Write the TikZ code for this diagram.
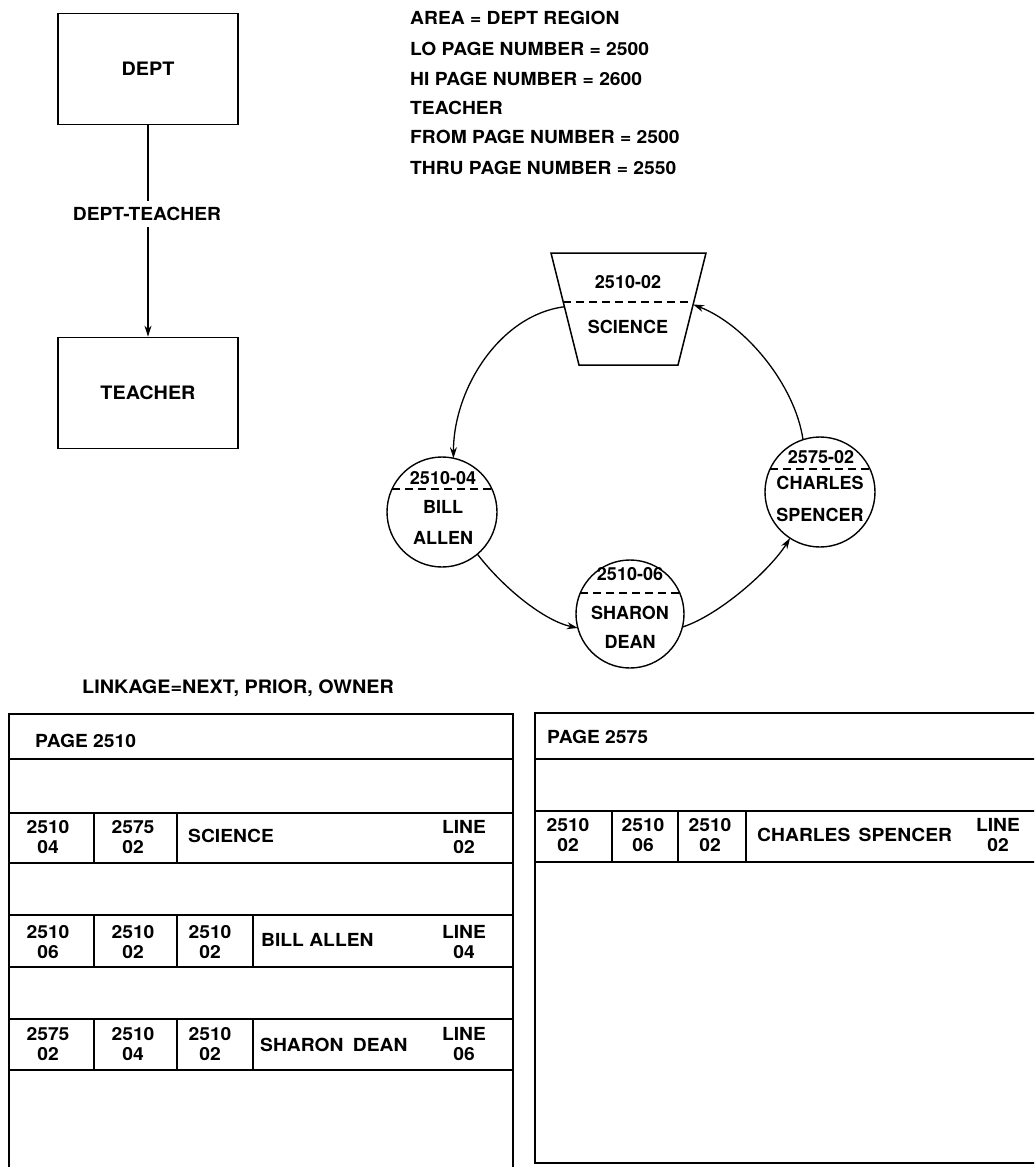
\documentclass[tikz,border=0pt]{standalone}
\usepackage{fontspec}
\setmainfont{TeX Gyre Heros}[FakeStretch=1.07]
\newfontfamily\ringfont{TeX Gyre Heros}
\usetikzlibrary{arrows.meta,calc}
\begin{document}
\begin{tikzpicture}[x=1pt,y=-1pt,
  lbl/.style={font=\fontsize{18}{20}\selectfont\bfseries, inner sep=0pt},
  rlbl/.style={font=\ringfont\fontsize{18}{20}\selectfont\bfseries, inner sep=0pt},
  cell/.style={lbl, align=center},
  entity/.style={draw, line width=1.7pt, minimum width=180pt, minimum height=111pt,
                 inner sep=0pt, font=\fontsize{18.5}{20}\selectfont\bfseries},
  occ/.style={draw, circle, line width=1.4pt, inner sep=0pt, outer sep=0pt},
  link/.style={line width=1.3pt, -{Stealth[length=11pt,width=7pt]}},
  sep/.style={line width=1.6pt, dash pattern=on 8pt off 5pt},
  grid/.style={line width=1.8pt}
]
\useasboundingbox (0,0) rectangle (1034,1167);
\clip (0,0) rectangle (1034,1167);

% ---------- schema: owner / member record types ----------
\node[entity] (dept) at (148,69) {DEPT};
\node[entity] (teacher) at (148,393) {TEACHER};
\node[lbl, inner sep=6pt] (rel) at (147,214) {DEPT-TEACHER};
\draw[line width=1.3pt] (dept.south) -- (rel.north -| dept.south);
\draw[link] (rel.south -| teacher.north) -- (teacher.north);

% ---------- area description ----------
\node[lbl, anchor=west] (t1) at (410,18)  {AREA = DEPT REGION};
\node[lbl, anchor=west] (t2) at (410,49)  {LO PAGE NUMBER = 2500};
\node[lbl, anchor=west] (t3) at (410,79)  {HI PAGE NUMBER = 2600};
\node[lbl, anchor=west] (t4) at (410,108) {TEACHER};
\node[lbl, anchor=west] (t5) at (410,137) {FROM PAGE NUMBER = 2500};
\node[lbl, anchor=west] (t6) at (410,168) {THRU PAGE NUMBER = 2550};

% ---------- set occurrence ----------
% owner record (trapezoid)
\coordinate (tl) at (551,253);
\coordinate (tr) at (706,253);
\coordinate (br) at (678,365);
\coordinate (bl) at (579,365);
\draw[line width=1.5pt] (tl) -- (tr) -- (br) -- (bl) -- cycle;
\draw[sep] ($(tl)!0.44!(bl)$) -- ($(tr)!0.44!(br)$);
\node[rlbl] (sciKey) at (628,282) {2510-02};
\node[rlbl] (sciName) at (628,327) {SCIENCE};
\coordinate (sciOut) at ($(tl)!0.48!(bl)$);
\coordinate (sciIn) at ($(tr)!0.46!(br)$);

% member records (circles)
\node[occ, minimum size=110pt] (bill) at (442,512) {};
\node[occ, minimum size=108pt] (sharon) at (630,614) {};
\node[occ, minimum size=110pt] (charles) at (820,492) {};

\draw[sep] (bill.155) -- (bill.25);
\draw[sep] (sharon.157) -- (sharon.23);
\draw[sep] (charles.155) -- (charles.25);

\node[rlbl] (billKey) at (443,478) {2510-04};
\node[rlbl] (billA) at (443,507) {BILL};
\node[rlbl] (billB) at (443,538) {ALLEN};

\node[rlbl] (sharonKey) at (630,574) {2510-06};
\node[rlbl] (sharonA) at (630,613) {SHARON};
\node[rlbl] (sharonB) at (630,642) {DEAN};

\node[rlbl] (charlesKey) at (821,457) {2575-02};
\node[rlbl] (charlesA) at (820,483) {CHARLES};
\node[rlbl] (charlesB) at (820,515) {SPENCER};

% next pointers around the ring
\draw[link] (sciOut) .. controls +(-64,8) and +(0,-70) .. (bill.78);
\draw[link] (bill.-50) .. controls +(27,35) and +(-33,-7) .. (sharon.195);
\draw[link] (sharon.-14) .. controls +(37,-12) and +(-20,32) .. (charles.-123);
\draw[link] (charles.108) .. controls +(-8,-55) and +(52,20) .. (sciIn);

% ---------- database pages ----------
\node[lbl, font=\fontsize{18.5}{20}\selectfont\bfseries, anchor=west] (linkage) at (82,688)
  {LINKAGE=NEXT, PRIOR, OWNER};

% page 2510
\draw[grid] (9,1180) -- (9,714) -- (513,714) -- (513,1180);
\foreach \yy in {759,813,863,915,967,1019,1070}
  \draw[grid] (9,\yy) -- (513,\yy);
\draw[grid] (94,813) -- (94,863) (177,813) -- (177,863);
\draw[grid] (94,915) -- (94,967) (177,915) -- (177,967) (253,915) -- (253,967);
\draw[grid] (94,1019) -- (94,1070) (177,1019) -- (177,1070) (253,1019) -- (253,1070);

\node[lbl, anchor=west] (p1) at (35,741) {PAGE 2510};

\node[cell] (a1) at (48,837) {2510\\04};
\node[cell] (a2) at (133,837) {2575\\02};
\node[lbl, anchor=west] (a3) at (188,836) {SCIENCE};
\node[cell] (a4) at (464,837) {LINE\\02};

\node[cell] (b1) at (48,942) {2510\\06};
\node[cell] (b2) at (133,942) {2510\\02};
\node[cell] (b3) at (210,942) {2510\\02};
\node[lbl, anchor=west] (b4) at (261,940) {BILL ALLEN};
\node[cell] (b5) at (464,942) {LINE\\04};

\node[cell] (c1) at (48,1044) {2575\\02};
\node[cell] (c2) at (133,1044) {2510\\04};
\node[cell] (c3) at (210,1044) {2510\\02};
\node[lbl, anchor=west] (c4) at (260,1045) {SHARON\hspace{4pt} DEAN};
\node[cell] (c5) at (464,1044) {LINE\\06};

% page 2575
\draw[grid] (1050,713) -- (535,713) -- (535,1163) -- (1050,1163);
\foreach \yy in {759,811,862}
  \draw[grid] (535,\yy) -- (1050,\yy);
\draw[grid] (612,811) -- (612,862) (678,811) -- (678,862) (746,811) -- (746,862);

\node[lbl, anchor=west] (p2) at (547,737) {PAGE 2575};
\node[cell] (d1) at (568,835) {2510\\02};
\node[cell] (d2) at (643,835) {2510\\06};
\node[cell] (d3) at (710,835) {2510\\02};
\node[lbl, anchor=west] (d4) at (757,835) {CHARLES\hspace{3pt} SPENCER};
\node[cell] (d5) at (998,835) {LINE\\02};
\end{tikzpicture}
\end{document}
